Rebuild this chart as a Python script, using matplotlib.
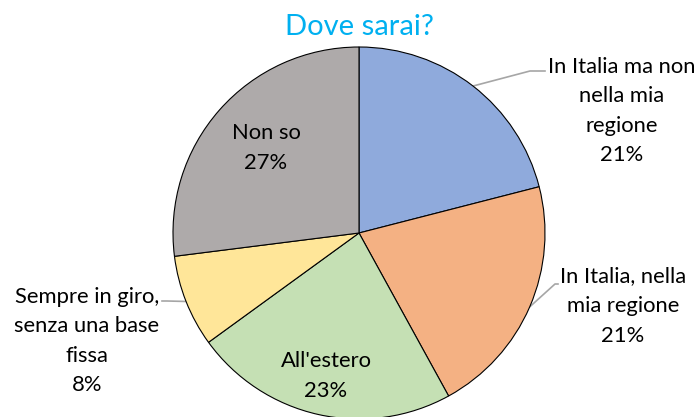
import numpy as np
import matplotlib
matplotlib.use("Agg")
import matplotlib.pyplot as plt

title = "Dove sarai?"
labels = ["In Italia ma non\nnella mia\nregione", "In Italia, nella\nmia regione",
          "All'estero", "Sempre in giro,\nsenza una base\nfissa", "Non so"]
values = [21, 21, 23, 8, 27]
colors = ["#8FAADC", "#F4B183", "#C5E0B4", "#FFE699", "#AEAAAA"]

W, H = 699, 417
fig = plt.figure(figsize=(W / 100, H / 100), dpi=100)
ax = fig.add_axes([0, 0, 1, 1])

font = "Lato"
cx, cy, r = 359, H - 233, 186
wedges, _ = ax.pie(values, colors=colors, startangle=90, counterclock=False,
                   center=(cx, cy), radius=r,
                   wedgeprops=dict(edgecolor="black", linewidth=0.8))
ax.set_xlim(0, W)
ax.set_ylim(0, H)
ax.set_aspect("equal")
ax.axis("off")

# label positions (pixel coords, y from top)
label_pos = [(622, 111), (623, 306), (326, 376), (87, 341), (266, 148)]
leaders = [
    [(530, 71), (545, 71)],
    [(555, 284), (558, 284)],
    None,
    [(167, 301), (162, 301)],
    None,
]
total = sum(values)
cum = 0
for i, (v, lab) in enumerate(zip(values, labels)):
    mid = 90 - (cum + v / 2) / total * 360
    cum += v
    x, y = label_pos[i]
    ax.text(x, H - y, f"{lab}\n{v}%", ha="center", va="center",
            fontsize=15.8, family=font, color="black", linespacing=1.6)
    if leaders[i] is not None:
        a = np.deg2rad(mid)
        px, py = cx + r * np.cos(a), cy + r * np.sin(a)
        xs = [px] + [p[0] for p in leaders[i]]
        ys = [py] + [H - p[1] for p in leaders[i]]
        ax.plot(xs, ys, color="#A6A6A6", lw=1.2, zorder=0.5)

ax.text(359, H - 27, title, ha="center", va="center", fontsize=21,
        family=font, color="#00B0F0")

fig.savefig("out.png", dpi=100)
